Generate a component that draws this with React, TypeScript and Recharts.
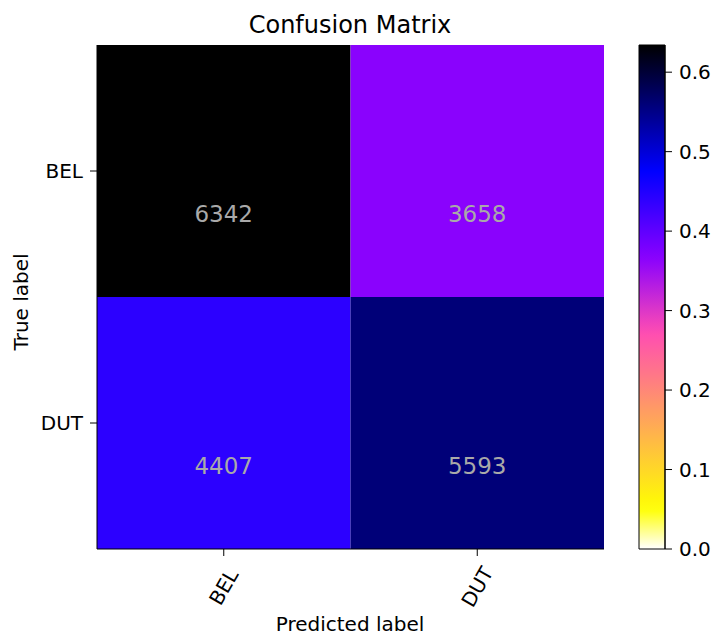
import React from 'react';
import { BarChart, Bar, XAxis, YAxis, Cell, LabelList } from 'recharts';

const trueLabels = ['BEL', 'DUT'];
const predictedLabels = ['BEL', 'DUT'];
const countsBEL = [6342, 3658];
const countsDUT = [4407, 5593];
const colorbarTicks = [0, 0.1, 0.2, 0.3, 0.4, 0.5, 0.6];

const FONT = '"DejaVu Sans", Verdana, sans-serif';
const matrix = [countsBEL, countsDUT];
const normed = matrix.map(row => {
  const total = row.reduce((a, b) => a + b, 0);
  return row.map(v => v / total);
});
const vmax = Math.max(...normed.flat());

// matplotlib gnuplot2 colormap, reversed
const clamp = (v: number) => Math.max(0, Math.min(1, v));
function gnuplot2(x: number) {
  const r = clamp(x / 0.32 - 0.78125);
  const g = clamp(2 * x - 0.84);
  let b;
  if (x < 0.25) b = 4 * x;
  else if (x < 0.42) b = 1;
  else if (x < 0.92) b = -2 * x + 1.84;
  else b = x / 0.08 - 11.5;
  b = clamp(b);
  const h = (c: number) => Math.round(c * 255).toString(16).padStart(2, '0');
  return '#' + h(r) + h(g) + h(b);
}
const cmap = (v: number) => gnuplot2(1 - v / vmax);

// one row per true label, one unit-wide stacked segment per predicted label
const rows = trueLabels.map(label => {
  const row: Record<string, unknown> = { label };
  predictedLabels.forEach(p => (row[p] = 1));
  return row;
});

const gradStops = Array.from({ length: 41 }, (_, i) => i / 40);

const XTick = (props: any) => {
  const { x, y, payload } = props;
  const idx = Math.round(payload.value - 0.5);
  return (
    <text
      x={0}
      y={0}
      transform={`translate(${x},${y + 29}) rotate(-60)`}
      textAnchor="middle"
      dominantBaseline="central"
      fontSize={20}
      fontFamily={FONT}
      fill="#000"
    >
      {predictedLabels[idx]}
    </text>
  );
};

const cellLabel = (col: number) => (props: any) => {
  const { x, y, width, height, index } = props;
  return (
    <text
      x={x + width / 2}
      y={y + height / 2 + 43}
      textAnchor="middle"
      dominantBaseline="central"
      fontSize={23}
      fontFamily={FONT}
      fill="#a9a9a9"
    >
      {matrix[index][col]}
    </text>
  );
};

export default function App() {
  return (
    <div style={{ position: 'absolute', left: 0, top: 0, width: 712, height: 636, background: '#fff', fontFamily: FONT }}>
      <div style={{ position: 'absolute', left: 0, width: 700, top: 10, textAlign: 'center', fontSize: 24, lineHeight: '30px' }}>
        Confusion Matrix
      </div>
      <div style={{ position: 'absolute', left: 0, width: 700, top: 613, textAlign: 'center', fontSize: 20, lineHeight: '22px' }}>
        Predicted label
      </div>
      <div
        style={{
          position: 'absolute',
          left: 21,
          top: 302,
          fontSize: 20,
          lineHeight: '24px',
          whiteSpace: 'nowrap',
          transform: 'translate(-50%, -50%) rotate(-90deg)',
        }}
      >
        True label
      </div>

      <div style={{ position: 'absolute', left: 0, top: 0 }}>
        <BarChart
          width={712}
          height={636}
          layout="vertical"
          data={rows}
          margin={{ top: 45, right: 108, bottom: 27, left: 37 }}
          barCategoryGap={0}
        >
          <XAxis
            type="number"
            domain={[0, 2]}
            ticks={[0.5, 1.5]}
            interval={0}
            height={60}
            tick={<XTick />}
            tickSize={7}
            tickLine={{ stroke: '#000' }}
            axisLine={{ stroke: '#000' }}
          />
          <XAxis
            xAxisId="top"
            orientation="top"
            type="number"
            domain={[0, 2]}
            height={0}
            tick={false}
            tickLine={false}
            axisLine={{ stroke: '#000' }}
          />
          <YAxis
            type="category"
            dataKey="label"
            width={60}
            tickSize={7}
            tickMargin={7}
            tick={{ fontSize: 20, fill: '#000', fontFamily: FONT }}
            tickLine={{ stroke: '#000' }}
            axisLine={{ stroke: '#000' }}
          />
          <YAxis
            yAxisId="right"
            orientation="right"
            type="category"
            dataKey="label"
            width={0}
            tick={false}
            tickLine={false}
            axisLine={{ stroke: '#000' }}
          />
          {predictedLabels.map((p, col) => (
            <Bar key={p} dataKey={p} stackId="m" isAnimationActive={false}>
              {rows.map((_, r) => (
                <Cell key={r} fill={cmap(normed[r][col])} />
              ))}
              <LabelList dataKey={p} content={cellLabel(col)} />
            </Bar>
          ))}
        </BarChart>
      </div>

      <div style={{ position: 'absolute', left: 600, top: 0 }}>
        <BarChart
          width={112}
          height={636}
          data={[{ k: 'cb', v: vmax }]}
          margin={{ top: 45, right: 0, bottom: 87, left: 39 }}
          barCategoryGap={0}
        >
          <defs>
            <linearGradient id="cbar" x1="0" y1="1" x2="0" y2="0">
              {gradStops.map(o => (
                <stop key={o} offset={o} stopColor={cmap(o * vmax)} />
              ))}
            </linearGradient>
          </defs>
          <XAxis dataKey="k" hide />
          <YAxis
            orientation="right"
            type="number"
            domain={[0, vmax]}
            ticks={colorbarTicks}
            interval={0}
            width={47}
            tickSize={7}
            tickMargin={7}
            tickFormatter={(v: number) => v.toFixed(1)}
            tick={{ fontSize: 20, fill: '#000', fontFamily: FONT }}
            tickLine={{ stroke: '#000' }}
            axisLine={{ stroke: '#000' }}
          />
          <Bar dataKey="v" fill="url(#cbar)" stroke="#000" strokeWidth={1} isAnimationActive={false} />
        </BarChart>
      </div>
    </div>
  );
}
